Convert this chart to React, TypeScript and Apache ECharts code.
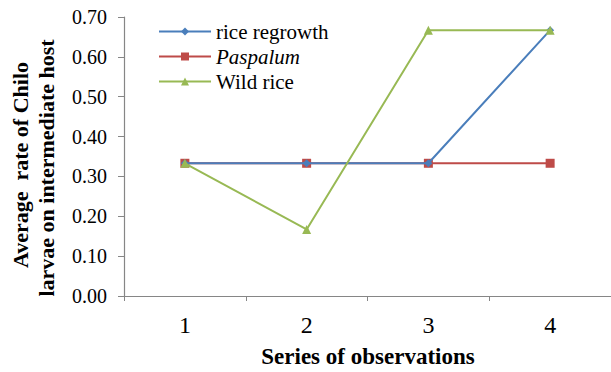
import React, { useEffect, useRef } from "react";
import * as echarts from "echarts";

const categories = ["1", "2", "3", "4"];
const riceRegrowth = [0.333, 0.333, 0.333, 0.667];
const paspalum = [0.333, 0.333, 0.333, 0.333];
const wildRice = [0.333, 0.167, 0.667, 0.667];

const FONT = "Liberation Serif";
const AXIS_COLOR = "#868686";

export default function App() {
  const ref = useRef<HTMLDivElement>(null);

  useEffect(() => {
    if (!ref.current) return;
    const chart = echarts.init(ref.current, null, { renderer: "svg" });
    chart.setOption({
      animation: false,
      backgroundColor: "#ffffff",
      textStyle: { fontFamily: FONT },
      grid: { left: 124, top: 17, right: -1, bottom: 76 },
      legend: {
        orient: "vertical",
        left: 158,
        top: 21,
        padding: 0,
        itemWidth: 52,
        itemHeight: 10,
        itemGap: 4,
        textStyle: { fontFamily: FONT, fontSize: 21, color: "#000" },
        data: [
          { name: "rice regrowth" },
          { name: "Paspalum", textStyle: { fontFamily: FONT, fontSize: 21, fontStyle: "italic", color: "#000" } },
          { name: "Wild rice" },
        ],
      },
      xAxis: {
        type: "category",
        data: categories,
        boundaryGap: true,
        axisLine: { lineStyle: { color: AXIS_COLOR, width: 1.2 } },
        axisTick: { show: true, length: 5, lineStyle: { color: AXIS_COLOR } },
        axisLabel: { fontFamily: FONT, fontSize: 24, color: "#000", margin: 17 },
      },
      yAxis: {
        type: "value",
        min: 0,
        max: 0.7,
        interval: 0.1,
        splitLine: { show: false },
        axisLine: { show: true, lineStyle: { color: AXIS_COLOR, width: 1.2 } },
        axisTick: { show: true, length: 6, lineStyle: { color: AXIS_COLOR } },
        axisLabel: {
          fontFamily: FONT,
          fontSize: 20,
          color: "#000",
          margin: 17,
          formatter: (v: number) => v.toFixed(2),
        },
      },
      graphic: [
        {
          type: "text",
          x: 20,
          y: 165,
          rotation: Math.PI / 2,
          style: {
            text: "Average  rate of Chilo",
            font: `bold 22px ${FONT}`,
            fill: "#000",
            align: "center",
            verticalAlign: "middle",
          },
        },
        {
          type: "text",
          x: 46,
          y: 168,
          rotation: Math.PI / 2,
          style: {
            text: "larvae on intermediate host",
            font: `bold 22px ${FONT}`,
            fill: "#000",
            align: "center",
            verticalAlign: "middle",
          },
        },
        {
          type: "text",
          x: 368,
          y: 356,
          style: {
            text: "Series of observations",
            font: `bold 23px ${FONT}`,
            fill: "#000",
            align: "center",
            verticalAlign: "middle",
          },
        },
      ],
      series: [
        {
          name: "rice regrowth",
          type: "line",
          data: riceRegrowth,
          symbol: "diamond",
          symbolSize: 8,
          color: "#4a7ebb",
          lineStyle: { width: 2, color: "#4a7ebb" },
          z: 3,
        },
        {
          name: "Paspalum",
          type: "line",
          data: paspalum,
          symbol: "rect",
          symbolSize: 9,
          color: "#be4b48",
          lineStyle: { width: 2, color: "#be4b48" },
          z: 2,
        },
        {
          name: "Wild rice",
          type: "line",
          data: wildRice,
          symbol: "triangle",
          symbolSize: 9,
          color: "#98b954",
          lineStyle: { width: 2, color: "#98b954" },
          z: 4,
        },
      ],
    });
    return () => chart.dispose();
  }, []);

  return <div ref={ref} style={{ width: 611, height: 372, position: "absolute", left: 0, top: 0 }} />;
}
